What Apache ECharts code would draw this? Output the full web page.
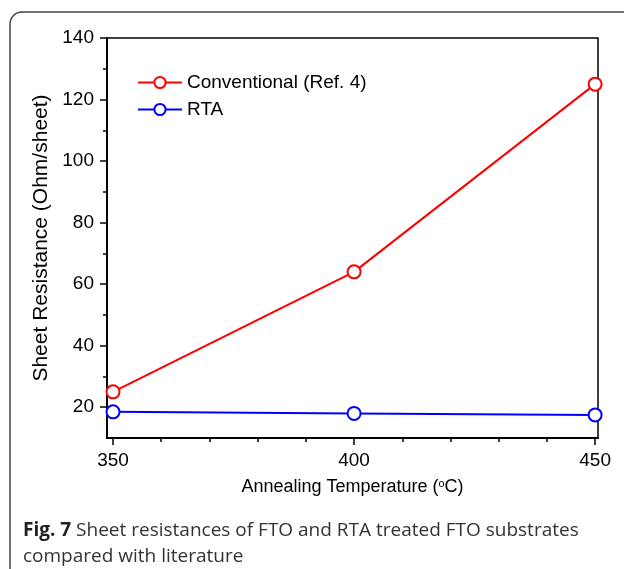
<!DOCTYPE html>
<html>
<head>
<meta charset="utf-8">
<script src="https://cdn.jsdelivr.net/npm/echarts@6/dist/echarts.min.js"></script>
<style>
  html, body { margin: 0; padding: 0; background: #fff; }
  #chart { width: 624px; height: 569px; }
</style>
</head>
<body>
<div id="chart"></div>
<script>
// data
const temperatures = [350, 400, 450];
const conventional = [25, 64, 125];
const rta = [18.5, 18, 17.5];
const xMajor = [350, 400, 450];
const xMinor = [360, 370, 380, 390, 410, 420, 430, 440];
const yMajor = [20, 40, 60, 80, 100, 120, 140];
const yMinor = [30, 50, 70, 90, 110, 130];

const font = 'Liberation Sans, Arial, sans-serif';

function pairs(xs, ys) {
  return xs.map((x, i) => [x, ys[i]]);
}

const chart = echarts.init(document.getElementById('chart'), null, { renderer: 'canvas' });

chart.setOption({
  animation: false,
  backgroundColor: '#fff',
  grid: {
    left: 107, top: 38, right: 26, bottom: 131,
    show: true, borderColor: '#000', borderWidth: 1.5
  },
  legend: {
    left: 132, top: 68,
    orient: 'vertical',
    itemWidth: 44, itemHeight: 14, itemGap: 8,
    textStyle: { fontFamily: font, fontSize: 19, color: '#000' },
    data: ['Conventional (Ref. 4)', 'RTA']
  },
  xAxis: [
    {
      type: 'value', min: 348.75, max: 450.6, position: 'bottom',
      name: 'Annealing Temperature ({sup|o}C)',
      nameLocation: 'middle', nameGap: 40,
      nameTextStyle: {
        fontFamily: font, fontSize: 18, color: '#000',
        rich: { sup: { fontFamily: font, fontSize: 11, verticalAlign: 'top', padding: [0, 0, 8, 0] } }
      },
      axisLine: { lineStyle: { color: '#000', width: 1.8 } },
      axisTick: { length: 7, lineStyle: { color: '#000', width: 1.5 }, customValues: xMajor },
      axisLabel: { customValues: xMajor, fontFamily: font, fontSize: 19, color: '#000', margin: 13 },
      splitLine: { show: false }
    },
    {
      type: 'value', min: 348.75, max: 450.6, position: 'bottom',
      axisLine: { show: false },
      axisTick: { length: 4, lineStyle: { color: '#000', width: 1.5 }, customValues: xMinor },
      axisLabel: { show: false },
      splitLine: { show: false }
    }
  ],
  yAxis: [
    {
      type: 'value', min: 10, max: 140, position: 'left',
      name: 'Sheet Resistance (Ohm/sheet)',
      nameLocation: 'middle', nameGap: 44,
      nameTextStyle: { fontFamily: font, fontSize: 21, color: '#000' },
      axisLine: { show: true, lineStyle: { color: '#000', width: 1.8 } },
      axisTick: { show: true, length: 7, lineStyle: { color: '#000', width: 1.5 }, customValues: yMajor },
      axisLabel: { customValues: yMajor, fontFamily: font, fontSize: 19, color: '#000', margin: 13 },
      splitLine: { show: false }
    },
    {
      type: 'value', min: 10, max: 140, position: 'left',
      axisLine: { show: false },
      axisTick: { show: true, length: 4, lineStyle: { color: '#000', width: 1.5 }, customValues: yMinor },
      axisLabel: { show: false },
      splitLine: { show: false }
    }
  ],
  series: [
    {
      name: 'Conventional (Ref. 4)',
      type: 'line',
      data: pairs(temperatures, conventional),
      symbol: 'emptyCircle', symbolSize: 13,
      lineStyle: { color: '#ff0000', width: 2 },
      itemStyle: { color: '#ff0000', borderColor: '#ff0000', borderWidth: 1.2 }
    },
    {
      name: 'RTA',
      type: 'line',
      data: pairs(temperatures, rta),
      symbol: 'emptyCircle', symbolSize: 13,
      lineStyle: { color: '#0000ff', width: 2 },
      itemStyle: { color: '#0000ff', borderColor: '#0000ff', borderWidth: 1.2 }
    }
  ],
  graphic: [
    {
      type: 'rect', silent: true, z: -1,
      shape: { x: 10, y: 12, width: 700, height: 640, r: 12 },
      style: { fill: 'none', stroke: '#444', lineWidth: 1.5 }
    },
    {
      type: 'text', left: 23, top: 518,
      style: {
        text: '{b|Fig. 7} Sheet resistances of FTO and RTA treated FTO substrates\ncompared with literature',
        fontFamily: 'Open Sans, sans-serif', fontSize: 19, lineHeight: 26, fill: '#333',
        rich: { b: { fontFamily: 'Open Sans, sans-serif', fontSize: 19, fontWeight: 'bold', fill: '#222' } }
      }
    }
  ]
});
</script>
</body>
</html>
